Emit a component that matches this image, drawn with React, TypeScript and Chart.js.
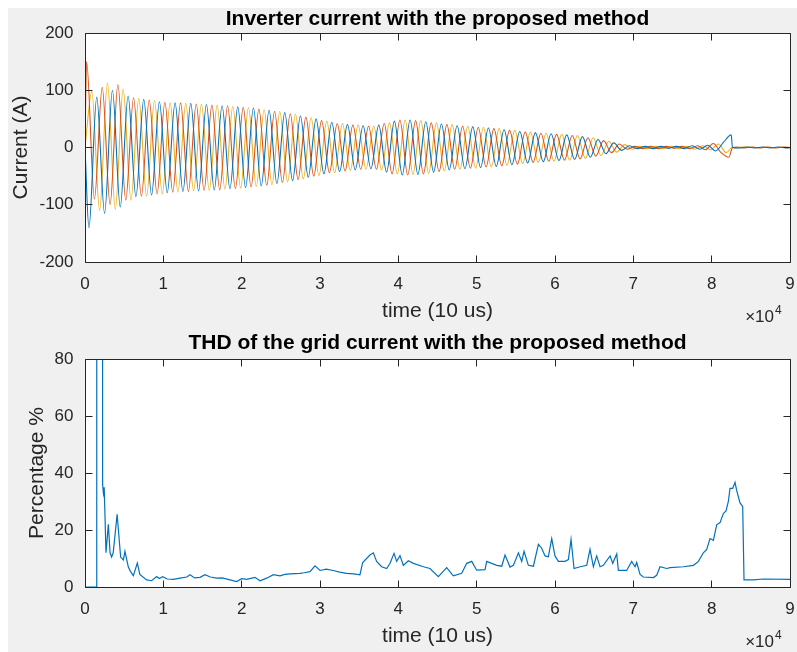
import React, { useEffect, useRef } from "react";
import { Chart, registerables } from "chart.js";

Chart.register(...registerables);

const FONT = "'Liberation Sans', Arial, Helvetica, sans-serif";
const AXIS_COLOR = "#262626";

// ---------- shared time axis (samples of 10 us) ----------
const timeMin = 0;
const timeMax = 90000;
const timeStep = 10000;
const timeExponent = "4";

// ---------- top plot: three-phase inverter current (A) ----------
const currentMin = -200;
const currentMax = 200;
const currentStep = 100;

// extrema of each phase, one per half cycle (50 Hz -> 1000 samples)
const halfCycle = 1000;
const phaseAStart = 500;
const phaseBStart = 200;
const phaseCStart = 867;

const phaseAPeaks = [
  -140, 88, -115, 100, -104, 90, -86, 84, -83, 80,
  -79, 78, -77, 77, -76, 75, -74, 73, -72, 71,
  -70, 69, -67, 65, -63, 61, -58, 55, -52, 50,
  -46, 44, -42, 40, -39, 38, -37, 39, -43, 46,
  -48, 48, -47, 45, -43, 41, -39, 38, -37, 36,
  -35, 34, -33, 31, -30, 28, -27, 26, -25, 24,
  -23, 22, -21, 19, -17, 14, -11, 8, -5, 3,
  -2, 2, -2, 2, -1.5, 2, -2, 3, -3, 4,
  -6, 9, 22, -1, 0.8, -0.8, 0.8, -0.8, 0.8, -0.8,
];
const phaseBPeaks = [
  150, -90, 105, -100, 110, -92, 87, -85, 83, -81,
  79, -78, 78, -77, 76, -75, 74, -74, 73, -72,
  70, -69, 67, -66, 63, -61, 59, -56, 53, -50,
  47, -44, 42, -41, 39, -38, 37, -38, 42, -46,
  48, -48, 47, -46, 43, -42, 40, -38, 37, -36,
  35, -34, 33, -32, 30, -29, 27, -26, 25, -24,
  23, -22, 21, -20, 17, -15, 12, -9, 6, -3,
  2, -2, 2, -2, 2, -1.5, 2, -2, 3, -4,
  7, -9, -17, 1, -0.8, 0.8, -0.8, 0.8, -0.8, 0.8,
];
const phaseCPeaks = [
  98, -110, 113, -108, 102, -92, 86, -85, 82, -81,
  78, -78, 77, -76, 76, -75, 74, -73, 72, -71,
  70, -68, 66, -65, 63, -60, 58, -55, 52, -49,
  46, -44, 42, -40, 39, -38, 37, -39, 43, -46,
  48, -47, 47, -45, 43, -41, 40, -38, 37, -36,
  35, -34, 33, -31, 30, -28, 27, -26, 25, -24,
  23, -22, 21, -19, 17, -14, 11, -8, 5, -3,
  2, -2, 2, -2, 2, -2, 2, -3, 3, -4,
  6, -9, -1, 1, 0.8, -0.8, 0.8, -0.8, 0.8, -0.8,
];

// the currents collapse right after the disturbance at ~8.25e4
const settleTime = 82650;
const settleValues = [0.5, -0.5, 0.3];

// ---------- bottom plot: THD of grid current (%) ----------
const thdMin = 0;
const thdMax = 80;
const thdStep = 20;

const thdTime = [
  0, 1490, 1500, 2130, 2250, 2350, 2450, 2680, 2980, 3200,
  3400, 3600, 4100, 4550, 4900, 5100, 5530, 5800, 6170, 6680,
  7000, 7870, 8500, 9150, 9500, 9920, 10500, 11280, 12130, 13000,
  13400, 14000, 14680, 15320, 16000, 16810, 17500, 18510, 19360, 20000,
  20640, 21700, 22340, 23190, 24040, 24900, 25500, 26170, 27450, 28000,
  28730, 29360, 30000, 30800, 31700, 32500, 33400, 34300, 35100, 35450,
  36380, 36810, 37230, 37870, 38510, 38940, 39450, 39790, 40210, 40640,
  41280, 41920, 43200, 44040, 45110, 46170, 47020, 48090, 48730, 49370,
  50000, 51070, 51280, 52560, 53200, 53620, 54260, 54690, 55330, 55750,
  56050, 56600, 57240, 57880, 58300, 58730, 59150, 59580, 60000, 60430,
  61280, 61710, 62050, 62430, 63200, 64050, 64470, 64900, 65320, 65750,
  66170, 67030, 67370, 67880, 68090, 69150, 69790, 70220, 70430, 70860,
  71280, 72560, 72980, 73410, 74260, 74690, 76390, 77670, 78310, 78940,
  79370, 79790, 80220, 80640, 81070, 81490, 81830, 82130, 82340, 82680,
  82980, 83190, 83620, 83960, 84130, 85320, 86600, 90000,
];
const thdValue = [
  0, 0, 1000, 1000, 36, 33, 35, 12, 22, 12,
  10.5, 12, 25.5, 10.5, 9.5, 12.5, 7, 5.5, 4, 8.4,
  4.4, 2.5, 2.2, 3.7, 3.0, 3.6, 2.8, 2.7, 3.1, 3.5,
  4.3, 3.2, 3.4, 4.3, 3.5, 3.1, 3.2, 2.5, 1.9, 2.9,
  2.7, 3.4, 2.2, 3.1, 4.3, 3.9, 4.4, 4.6, 4.8, 5.0,
  5.4, 7.4, 5.8, 6.3, 5.8, 5.2, 4.8, 4.6, 4.3, 8.6,
  11.2, 12, 9, 7.1, 6.5, 8.3, 11.8, 9, 11, 7.6,
  9.2, 8.3, 7.1, 6.5, 3.6, 6.8, 3.9, 4.8, 8.3, 9,
  5.9, 6.1, 9, 7.6, 7.3, 11.2, 7, 7.6, 12, 9,
  12.5, 7.6, 7.3, 15, 13.6, 10.9, 10.6, 17, 10.9, 9,
  9, 9.6, 16.7, 6.5, 7.1, 7.6, 13.2, 7.1, 10.9, 7.1,
  7.6, 10.9, 8.3, 11.6, 5.8, 5.8, 9, 7.1, 8.6, 4.4,
  3.5, 3.3, 4.1, 7.1, 6.5, 6.8, 7.1, 7.6, 9, 12,
  13.2, 17, 16.4, 21.8, 22.6, 25.8, 26.7, 30, 34.6, 34.6,
  36.7, 33.9, 29.5, 28.3, 2.5, 2.5, 2.8, 2.7,
];

const phaseColors = ["#0072BD", "#D95319", "#EDB120"];

function phaseSeries(start: number, peaks: number[], settle: number) {
  const pts = [{ x: timeMin, y: 0 }];
  peaks.forEach((v, k) => pts.push({ x: start + k * halfCycle, y: v }));
  pts.push({ x: settleTime, y: settle });
  pts.push({ x: timeMax, y: 0 });
  pts.sort((a, b) => a.x - b.x);
  return pts;
}

const matlabAxesPlugin = {
  id: "matlabAxes",
  beforeDraw(chart: any) {
    const { ctx, chartArea: a } = chart;
    ctx.save();
    ctx.fillStyle = "#ffffff";
    ctx.fillRect(a.left, a.top, a.right - a.left, a.bottom - a.top);
    ctx.restore();
  },
  afterDatasetsDraw(chart: any, _args: any, opts: any) {
    const { ctx, chartArea: a, scales } = chart;
    const L = Math.floor(a.left) + 0.5;
    const R = Math.floor(a.right) + 0.5;
    const T = Math.floor(a.top) + 0.5;
    const B = Math.floor(a.bottom) + 0.5;
    const len = 7;
    ctx.save();
    ctx.strokeStyle = AXIS_COLOR;
    ctx.lineWidth = 1;
    ctx.beginPath();
    ctx.rect(L, T, R - L, B - T);
    scales.x.ticks.forEach((t: any) => {
      const px = Math.floor(scales.x.getPixelForValue(t.value)) + 0.5;
      ctx.moveTo(px, B);
      ctx.lineTo(px, B - len);
      ctx.moveTo(px, T);
      ctx.lineTo(px, T + len);
    });
    scales.y.ticks.forEach((t: any) => {
      const py = Math.floor(scales.y.getPixelForValue(t.value)) + 0.5;
      ctx.moveTo(L, py);
      ctx.lineTo(L + len, py);
      ctx.moveTo(R, py);
      ctx.lineTo(R - len, py);
    });
    ctx.stroke();
    ctx.fillStyle = AXIS_COLOR;
    ctx.textBaseline = "alphabetic";
    ctx.font = `17px ${FONT}`;
    ctx.textAlign = "right";
    ctx.fillText("\u00d710", a.right - 16, a.bottom + 60);
    ctx.font = `12px ${FONT}`;
    ctx.textAlign = "left";
    ctx.fillText(opts.exponent, a.right - 15, a.bottom + 52);
    ctx.restore();
  },
};

type Cfg = {
  title: string;
  titlePadTop: number;
  topHeight: number;
  xTitlePadBottom: number;
  bottomHeight: number;
  yLabel: string;
  yTitlePad: number;
  yMin: number;
  yMax: number;
  yStep: number;
  datasets: any[];
};

function buildChart(canvas: HTMLCanvasElement, c: Cfg) {
  const tickFont = { family: FONT, size: 17 };
  const labelFont = { family: FONT, size: 21 };
  return new Chart(canvas, {
    type: "line",
    data: { datasets: c.datasets },
    plugins: [matlabAxesPlugin],
    options: {
      responsive: false,
      maintainAspectRatio: false,
      animation: false,
      devicePixelRatio: 1,
      layout: { padding: { left: 0, right: 7, top: 0, bottom: 0 } },
      elements: { point: { radius: 0 } },
      plugins: {
        legend: { display: false },
        tooltip: { enabled: false },
        title: { display: false },
        matlabAxes: { exponent: timeExponent },
      } as any,
      scales: {
        xTop: {
          axis: "x",
          type: "linear",
          position: "top",
          min: timeMin,
          max: timeMax,
          grid: { display: false, drawTicks: false },
          border: { display: false },
          ticks: { display: false },
          title: {
            display: true,
            text: c.title,
            color: "#000000",
            font: { family: FONT, size: 21, weight: "bold" },
            padding: { top: c.titlePadTop, bottom: 0 },
          },
          afterFit: (s: any) => {
            s.height = c.topHeight;
            s.paddingLeft = 0;
            s.paddingRight = 0;
          },
        },
        x: {
          type: "linear",
          position: "bottom",
          min: timeMin,
          max: timeMax,
          grid: { display: false, drawTicks: false },
          border: { display: false },
          ticks: {
            stepSize: timeStep,
            autoSkip: false,
            maxRotation: 0,
            padding: 11.8,
            color: AXIS_COLOR,
            font: tickFont,
            callback: (v: any) => String(Number(v) / timeStep),
          },
          title: {
            display: true,
            text: "time (10 us)",
            color: AXIS_COLOR,
            font: labelFont,
            padding: { top: 0, bottom: c.xTitlePadBottom },
          },
          afterFit: (s: any) => {
            s.height = c.bottomHeight;
            s.paddingLeft = 0;
            s.paddingRight = 0;
          },
        },
        y: {
          type: "linear",
          position: "left",
          min: c.yMin,
          max: c.yMax,
          grid: { display: false, drawTicks: false },
          border: { display: false },
          ticks: {
            stepSize: c.yStep,
            autoSkip: false,
            padding: 11.5,
            color: AXIS_COLOR,
            font: tickFont,
          },
          title: {
            display: true,
            text: c.yLabel,
            color: AXIS_COLOR,
            font: labelFont,
            padding: { top: c.yTitlePad, bottom: 0 },
          },
          afterFit: (s: any) => {
            s.width = 85;
            s.paddingTop = 0;
            s.paddingBottom = 0;
          },
        },
      } as any,
    },
  } as any);
}

export default function App() {
  const topRef = useRef<HTMLCanvasElement | null>(null);
  const bottomRef = useRef<HTMLCanvasElement | null>(null);

  useEffect(() => {
    const lineStyle = {
      borderWidth: 1.1,
      pointRadius: 0,
      fill: false,
      cubicInterpolationMode: "monotone",
    };
    const top = buildChart(topRef.current as HTMLCanvasElement, {
      title: "Inverter current with the proposed method",
      titlePadTop: 6.4,
      topHeight: 33,
      xTitlePadBottom: 6.4,
      bottomHeight: 68,
      yLabel: "Current (A)",
      yTitlePad: 9,
      yMin: currentMin,
      yMax: currentMax,
      yStep: currentStep,
      datasets: [
        { ...lineStyle, label: "ia", borderColor: phaseColors[0], data: phaseSeries(phaseAStart, phaseAPeaks, settleValues[0]) },
        { ...lineStyle, label: "ib", borderColor: phaseColors[1], data: phaseSeries(phaseBStart, phaseBPeaks, settleValues[1]) },
        { ...lineStyle, label: "ic", borderColor: phaseColors[2], data: phaseSeries(phaseCStart, phaseCPeaks, settleValues[2]) },
      ],
    });
    const bottom = buildChart(bottomRef.current as HTMLCanvasElement, {
      title: "THD of the grid current with the proposed method",
      titlePadTop: 0.8,
      topHeight: 29,
      xTitlePadBottom: 3.4,
      bottomHeight: 65,
      yLabel: "Percentage %",
      yTitlePad: 24.5,
      yMin: thdMin,
      yMax: thdMax,
      yStep: thdStep,
      datasets: [
        {
          label: "THD",
          borderColor: phaseColors[0],
          borderWidth: 1.2,
          pointRadius: 0,
          fill: false,
          tension: 0,
          data: thdTime.map((t, i) => ({ x: t, y: thdValue[i] })),
        },
      ],
    });
    return () => {
      top.destroy();
      bottom.destroy();
    };
  }, []);

  return (
    <div
      style={{
        position: "fixed",
        left: 0,
        top: 0,
        width: 797,
        height: 652,
        background: "#ffffff",
        overflow: "hidden",
      }}
    >
      <div style={{ position: "absolute", left: 8, top: 8, right: 0, bottom: 0, background: "#f0f0f0" }} />
      <canvas
        ref={topRef}
        width={797}
        height={330}
        style={{ position: "absolute", left: 0, top: 0, width: 797, height: 330 }}
      />
      <canvas
        ref={bottomRef}
        width={797}
        height={322}
        style={{ position: "absolute", left: 0, top: 330, width: 797, height: 322 }}
      />
    </div>
  );
}
